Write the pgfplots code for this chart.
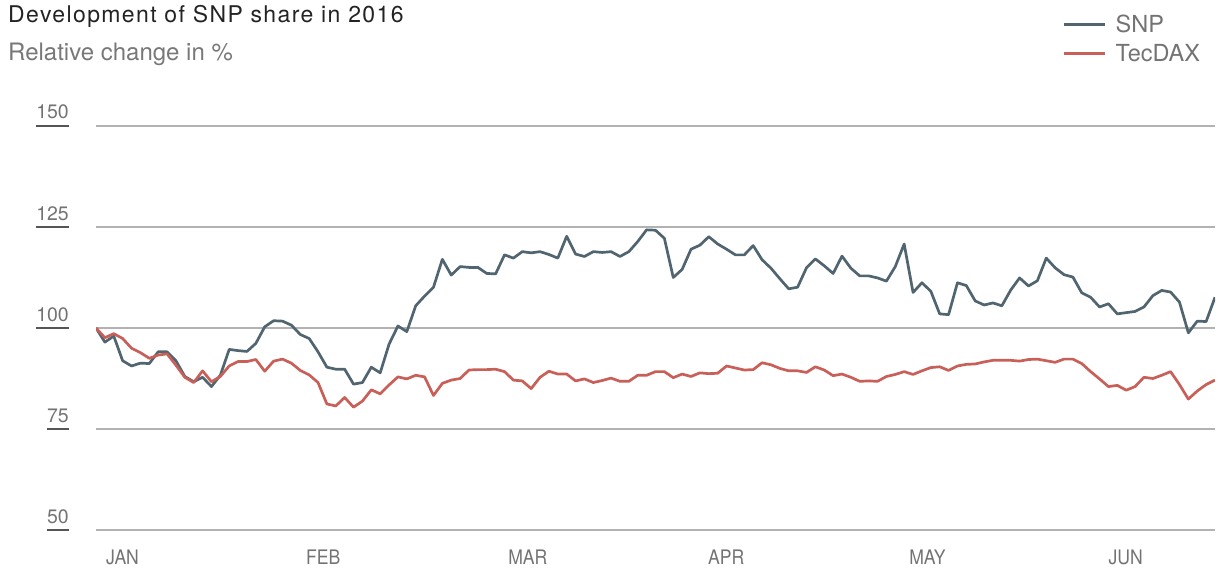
\documentclass[border=0pt]{standalone}
\usepackage{fontspec}
\setmainfont{TeX Gyre Heros}
\newfontfamily\condfont[FakeStretch=0.88]{TeX Gyre Heros}
\newfontfamily\titlefont[LetterSpace=6]{TeX Gyre Heros}
\usepackage{pgfplots}
\usepackage{pgfplotstable}
\pgfplotsset{compat=1.18}
\definecolor{snpcol}{RGB}{80,101,112}
\definecolor{teccol}{RGB}{200,95,88}
\definecolor{gridgray}{RGB}{178,178,178}
\definecolor{titlecol}{RGB}{35,35,35}
\definecolor{subcol}{RGB}{120,120,120}
\definecolor{labcol}{RGB}{115,115,115}
\definecolor{rulecol}{RGB}{85,85,85}

\pgfplotstableread{
x snp tec
0 100.0 100.0
1 96.5 97.6
2 98.0 98.6
3 91.9 97.4
4 90.6 95.0
5 91.3 93.9
6 91.2 92.5
7 94.1 93.3
8 94.1 93.6
9 91.9 90.8
10 88.0 87.8
11 86.7 86.5
12 87.8 89.4
13 85.5 86.7
14 88.3 88.0
15 94.7 90.6
16 94.4 91.7
17 94.2 91.7
18 96.2 92.2
19 100.3 89.3
20 101.8 91.8
21 101.7 92.3
22 100.7 91.3
23 98.4 89.5
24 97.4 88.4
25 94.1 86.5
26 90.3 81.2
27 89.8 80.7
28 89.8 82.8
29 86.1 80.4
30 86.5 81.9
31 90.3 84.7
32 88.9 83.7
33 96.0 85.9
34 100.5 87.9
35 99.1 87.4
36 105.5 88.3
37 107.9 87.9
38 110.1 83.3
39 117.0 86.3
40 113.1 87.1
41 115.2 87.5
42 115.0 89.6
43 115.0 89.7
44 113.5 89.7
45 113.4 89.8
46 118.1 89.2
47 117.3 87.1
48 118.9 86.9
49 118.6 85.0
50 118.9 87.8
51 118.2 89.3
52 117.3 88.6
53 122.7 88.6
54 118.3 86.9
55 117.7 87.4
56 118.9 86.5
57 118.7 87.0
58 118.9 87.6
59 117.7 86.8
60 118.9 86.8
61 121.4 88.3
62 124.3 88.3
63 124.2 89.2
64 122.2 89.2
65 112.5 87.7
66 114.5 88.6
67 119.5 88.0
68 120.5 88.9
69 122.6 88.7
70 120.8 88.8
71 119.5 90.6
72 118.1 90.1
73 118.1 89.6
74 120.4 89.7
75 116.9 91.4
76 114.8 90.9
77 112.2 90.0
78 109.7 89.4
79 110.1 89.4
80 114.9 89.0
81 117.1 90.4
82 115.4 89.6
83 113.5 88.2
84 117.8 88.6
85 114.8 87.8
86 112.9 86.8
87 112.9 86.9
88 112.4 86.8
89 111.6 88.0
90 115.2 88.5
91 120.8 89.2
92 108.8 88.5
93 111.2 89.4
94 109.1 90.2
95 103.5 90.4
96 103.3 89.5
97 111.2 90.6
98 110.5 91.0
99 106.7 91.1
100 105.7 91.6
101 106.2 92.0
102 105.5 92.0
103 109.4 92.0
104 112.4 91.8
105 110.4 92.2
106 111.7 92.3
107 117.3 91.9
108 114.9 91.5
109 113.2 92.3
110 112.6 92.3
111 108.7 91.2
112 107.6 89.2
113 105.2 87.4
114 106.0 85.5
115 103.5 85.8
116 103.8 84.6
117 104.1 85.5
118 105.2 87.8
119 108.0 87.5
120 109.3 88.3
121 108.9 89.2
122 106.4 86.0
123 98.8 82.4
124 101.7 84.4
125 101.6 86.0
126 107.6 87.1
}\data

\begin{document}
\begin{tikzpicture}
\useasboundingbox (0pt,0pt) rectangle (1219pt,574pt);
\begin{axis}[
  at={(96pt,44pt)}, anchor=south west,
  scale only axis, width=1119pt, height=404pt,
  xmin=0, xmax=126, ymin=50, ymax=150,
  axis line style={draw=none},
  major tick length=0pt,
  ytick={50,75,100,125,150},
  ymajorgrids,
  grid style={line width=1.3pt, color=gridgray},
  yticklabel={\setbox0=\hbox{\pgfmathprintnumber[assume math mode=true]{\tick}}\vtop{\copy0\kern6.2pt\color{rulecol}\hrule width\wd0 height1.4pt}},
  yticklabel style={anchor=base east, inner sep=0pt, xshift=-27pt, yshift=7pt,
    font=\fontsize{19.5pt}{23pt}\selectfont, text=labcol},
  xtick={1.13,23.65,46.4,68.9,91.55,114.0},
  xticklabels={JAN,FEB,MAR,APR,MAY,JUN},
  xticklabel style={anchor=north west, inner sep=0pt, yshift=-20pt,
    font=\condfont\fontsize{20pt}{24pt}\selectfont, text=labcol},
  legend style={at={(axis description cs:0.8635,1.276)}, anchor=north west,
    draw=none, fill=none, inner sep=0pt, row sep=10.5pt,
    font=\fontsize{23.5pt}{28pt}\selectfont, text=labcol,
    nodes={inner sep=0pt}},
  legend cell align=left,
  legend image code/.code={\draw[#1] (0pt,0pt) -- (41pt,0pt); \path (50.5pt,0pt);},
]
\addplot[color=snpcol, line width=2.7pt, line join=round] table[x=x, y=snp] {\data};
\addlegendentry{SNP}
\addplot[color=teccol, line width=2.7pt, line join=round] table[x=x, y=tec] {\data};
\addlegendentry{TecDAX}
\end{axis}
\node[anchor=base west, inner sep=0pt, font=\titlefont\fontsize{23pt}{27pt}\selectfont, text=titlecol] at (8pt,551.3pt) {Development of SNP share in 2016};
\node[anchor=base west, inner sep=0pt, font=\fontsize{24pt}{28pt}\selectfont, text=subcol] at (8pt,513pt) {Relative change in \%};
\end{tikzpicture}
\end{document}
